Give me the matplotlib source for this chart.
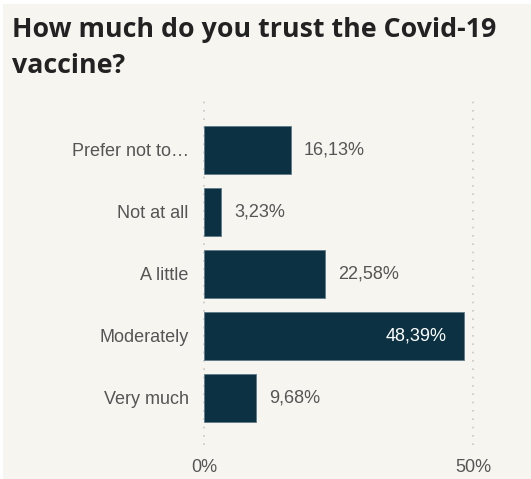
import matplotlib.pyplot as plt
from matplotlib.patches import Rectangle

categories = ["Prefer not to…", "Not at all", "A little", "Moderately", "Very much"]
values = [16.13, 3.23, 22.58, 48.39, 9.68]
value_labels = ["16,13%", "3,23%", "22,58%", "48,39%", "9,68%"]
xticks = [0, 50]
xtick_labels = ["0%", "50%"]
title = "How much do you trust the Covid-19\nvaccine?"

W, H = 531, 479
bg = "#f7f5f0"
bar_color = "#0b3143"
text_grey = "#555555"

fig = plt.figure(figsize=(W / 100, H / 100), dpi=100)
fig.patch.set_facecolor("white")
fig.patches.append(Rectangle((3 / W, 0), 1, 1 - 4 / H, transform=fig.transFigure,
                             facecolor=bg, edgecolor="none", zorder=-10))

ax = fig.add_axes([204 / W, 1 - 445 / H, 269 / W, 345 / H])
ax.set_facecolor("none")
ax.set_xlim(0, 50)
ax.set_ylim(4.76, -0.8)

ypos = list(range(len(categories)))
ax.barh(ypos, values, height=0.77, color=bar_color, edgecolor="#5f7a88", linewidth=0.6, zorder=3)

for x in xticks:
    ax.axvline(x, color="#c8c8c8", linestyle=(0, (1, 4)), linewidth=1.2, zorder=1, clip_on=False)

for y, v, lab in zip(ypos, values, value_labels):
    if v > 40:
        ax.text(v - 3.3, y, lab, ha="right", va="center", color="white",
                fontsize=13, family="Liberation Sans", zorder=4)
    else:
        ax.text(v + 2.4, y, lab, ha="left", va="center", color=text_grey,
                fontsize=13, family="Liberation Sans", zorder=4)

ax.set_yticks(ypos)
ax.set_yticklabels(categories, fontsize=13, color=text_grey, family="Liberation Sans")
ax.set_xticks(xticks)
ax.set_xticklabels(xtick_labels, fontsize=13, color=text_grey, family="Liberation Sans")
ax.tick_params(axis="y", length=0, pad=11)
ax.tick_params(axis="x", length=0, pad=10)
for s in ax.spines.values():
    s.set_visible(False)

fig.text(12 / W, 1 - 17 / H, title, ha="left", va="top", fontsize=19.3,
         fontweight="bold", color="#222222", family="Open Sans", linespacing=1.48)

fig.savefig("out.png", dpi=100, facecolor=fig.get_facecolor())
